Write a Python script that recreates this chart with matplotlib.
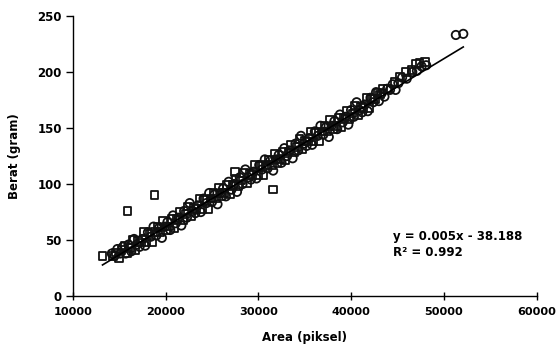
import matplotlib

matplotlib.use("Agg")
import matplotlib.pyplot as plt
import numpy as np

# hollow circles (main cloud)
circle_x = [
    14200, 14500, 14800, 15100, 15400, 15700, 16000, 16300, 16600, 16900,
    17200, 17500, 17800, 18100, 18400, 18700, 19000, 19300, 19600, 19900,
    20200, 20500, 20800, 21100, 21400, 21700, 22000, 22300, 22600, 22900,
    23200, 23500, 23800, 24100, 24400, 24700, 25000, 25300, 25600, 25900,
    26200, 26500, 26800, 27100, 27400, 27700, 28000, 28300, 28600, 28900,
    29200, 29500, 29800, 30100, 30400, 30700, 31000, 31300, 31600, 31900,
    32200, 32500, 32800, 33100, 33400, 33700, 34000, 34300, 34600, 34900,
    35200, 35500, 35800, 36100, 36400, 36700, 37000, 37300, 37600, 37900,
    38200, 38500, 38800, 39100, 39400, 39700, 40000, 40300, 40600, 40900,
    41200, 41500, 41800, 42100, 42400, 42700, 43000, 43300, 43600, 43900,
    44200, 44500, 44800, 45100, 45500, 46000, 46600, 47100, 47600, 48100,
    51300, 52100,
]
circle_y = [
    38, 36, 42, 38, 44, 38, 46, 40, 51, 46,
    44, 51, 45, 57, 53, 62, 54, 61, 52, 62,
    66, 59, 72, 65, 70, 63, 76, 70, 83, 76,
    74, 81, 75, 87, 83, 92, 84, 91, 82, 92,
    96, 89, 102, 95, 100, 93, 106, 100, 113, 106,
    104, 111, 105, 117, 113, 122, 114, 121, 112, 122,
    126, 119, 132, 125, 130, 123, 136, 130, 143, 136,
    134, 141, 135, 147, 143, 152, 144, 151, 142, 152,
    156, 149, 162, 155, 160, 153, 166, 160, 173, 166,
    164, 171, 165, 177, 173, 182, 174, 181, 178, 185,
    184, 189, 184, 190, 195, 194, 200, 201, 205, 206,
    233, 234,
]

# hollow squares (second set, incl. outliers)
square_x = [
    13200, 15900, 18800, 27500, 31600,
    14350, 14650, 14950, 15250, 15550, 15850, 16150, 16450, 16750, 17050,
    17350, 17650, 17950, 18250, 18550, 18850, 19150, 19450, 19750, 20050,
    20350, 20650, 20950, 21250, 21550, 21850, 22150, 22450, 22750, 23050,
    23350, 23650, 23950, 24250, 24550, 24850, 25150, 25450, 25750, 26050,
    26350, 26650, 26950, 27250, 27550, 27850, 28150, 28450, 28750, 29050,
    29350, 29650, 29950, 30250, 30550, 30850, 31150, 31450, 31750, 32050,
    32350, 32650, 32950, 33250, 33550, 33850, 34150, 34450, 34750, 35050,
    35350, 35650, 35950, 36250, 36550, 36850, 37150, 37450, 37750, 38050,
    38350, 38650, 38950, 39250, 39550, 39850, 40150, 40450, 40750, 41050,
    41350, 41650, 41950, 42250, 42550, 42850, 43150, 43450, 44000, 44700,
    45300, 45900, 46500, 47000, 47400, 48000,
]
square_y = [
    36, 76, 90, 111, 95,
    36, 39, 34, 41, 45, 38, 43, 50, 41, 49,
    48, 57, 48, 56, 48, 57, 62, 57, 67, 59,
    62, 69, 61, 69, 75, 68, 73, 80, 71, 79,
    78, 87, 78, 86, 78, 87, 92, 87, 97, 89,
    92, 99, 91, 99, 105, 98, 103, 110, 101, 109,
    108, 117, 108, 116, 108, 117, 122, 117, 127, 119,
    122, 129, 121, 129, 135, 128, 133, 140, 131, 139,
    138, 147, 138, 146, 138, 147, 152, 147, 157, 149,
    152, 159, 151, 159, 165, 158, 163, 170, 161, 169,
    168, 177, 168, 176, 176, 181, 180, 185, 185, 191,
    196, 200, 202, 207, 208, 209,
]

# trendline as printed on the chart
slope = 0.005
intercept = -38.188
r_squared = 0.992

x_ticks = [10000, 20000, 30000, 40000, 50000, 60000]
y_ticks = [0, 50, 100, 150, 200, 250]

font = {"family": "DejaVu Sans", "weight": "bold", "size": 8.5}
xtick_font = dict(font, size=8.1)

fig = plt.figure(figsize=(5.56, 3.62), dpi=100)
ax = fig.add_axes([0.131, 0.182, 0.834, 0.774])

ax.scatter(circle_x, circle_y, s=36, marker="o", facecolors="none",
           edgecolors="#111111", linewidths=1.3, zorder=3)
ax.scatter(square_x, square_y, s=30, marker="s", facecolors="none",
           edgecolors="#111111", linewidths=1.3, zorder=3)

all_x = np.array(circle_x + square_x)
line_x = np.array([all_x.min(), all_x.max()])
ax.plot(line_x, slope * line_x + intercept, color="black", lw=1.2, zorder=4)

ax.set_xlim(10000, 60000)
ax.set_ylim(0, 250)
ax.set_xticks(x_ticks)
ax.set_yticks(y_ticks)
ax.set_xticklabels([str(t) for t in x_ticks], fontdict=xtick_font)
ax.set_yticklabels([str(t) for t in y_ticks], fontdict=font)
ax.tick_params(axis="x", direction="inout", length=6, width=1, pad=5)
ax.tick_params(axis="y", direction="out", length=5, width=1, pad=3)

for side in ("top", "right"):
    ax.spines[side].set_visible(False)
for side in ("left", "bottom"):
    ax.spines[side].set_linewidth(1.0)

ax.set_xlabel("Area (piksel)", fontdict=font, labelpad=10)
ax.set_ylabel("Berat (gram)", fontdict=font, labelpad=12)

ax.text(0.69, 0.211, f"y = {slope}x - {abs(intercept)}", transform=ax.transAxes,
        va="center", ha="left", **font)
ax.text(0.69, 0.154, f"R² = {r_squared}", transform=ax.transAxes,
        va="center", ha="left", **font)

fig.savefig("out.png", dpi=100)
